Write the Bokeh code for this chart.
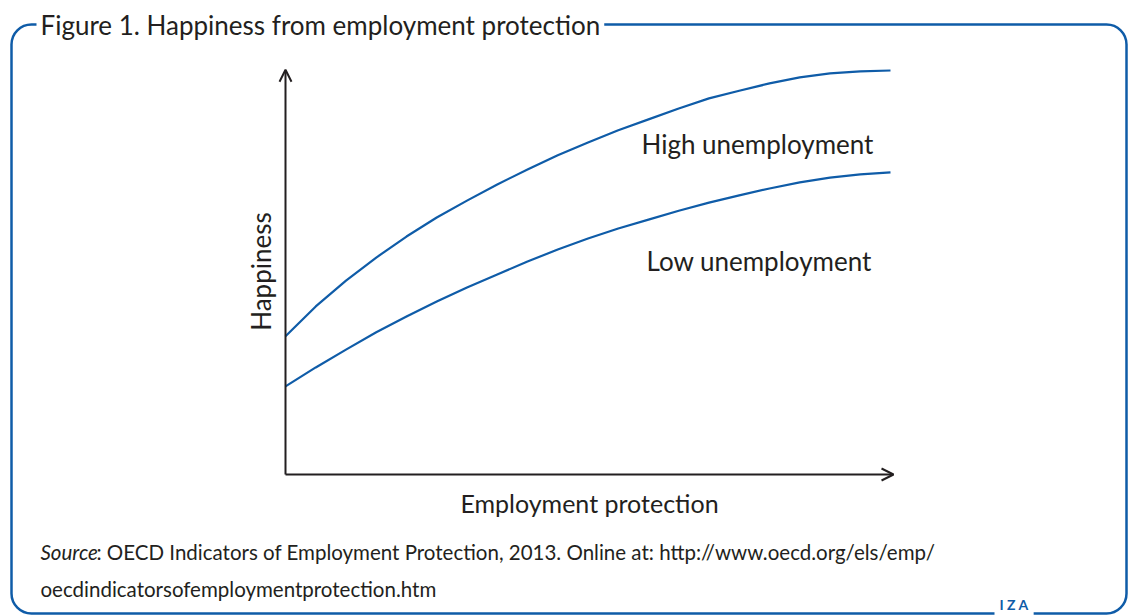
from bokeh.plotting import figure
from bokeh.models import Range1d, Label, Arrow, OpenHead, BoxAnnotation
from bokeh.embed import file_html
from bokeh.resources import INLINE

# ---------------- data (conceptual curves) ----------------
protection = [0, 0.5, 1, 1.5, 2, 2.5, 3, 3.5, 4, 4.5, 5, 5.5, 6, 6.5, 7, 7.5, 8, 8.5, 9, 9.5, 10]
happiness_high = [3.42, 4.16, 4.80, 5.37, 5.89, 6.36, 6.78, 7.18, 7.55, 7.90, 8.22,
                  8.52, 8.79, 9.06, 9.31, 9.50, 9.68, 9.83, 9.93, 9.98, 10.0]
happiness_low = [2.18, 2.65, 3.09, 3.52, 3.91, 4.28, 4.63, 4.95, 5.27, 5.57, 5.84,
                 6.09, 6.31, 6.53, 6.73, 6.91, 7.08, 7.23, 7.35, 7.43, 7.48]
series_labels = ["High unemployment", "Low unemployment"]

title_text = "Figure 1. Happiness from employment protection"
x_label = "Employment protection"
y_label = "Happiness"
source_italic = "Source"
source_rest = ": OECD Indicators of Employment Protection, 2013. Online at: http://www.oecd.org/els/emp/"
source_line2 = "oecdindicatorsofemploymentprotection.htm"
logo_text = "I Z A"

# ---------------- layout / style ----------------
FONT = "Lato"
INK = "#231f20"
BLUE = "#0f5ca8"
W, H = 1129, 616
OX, OY = 0, 0                 # page position of the canvas
ORIG_X, ORIG_Y = 285, 474     # page position of the axes origin
PX_X, PX_Y = 60.5, 40.4       # pixels per data unit

p = figure(width=W, height=H, output_backend="svg", toolbar_location=None,
           x_range=Range1d(OX, OX + W), y_range=Range1d(OY + H, OY),
           x_axis_location=None, y_axis_location=None, min_border=0)
p.grid.visible = False
p.outline_line_color = None
p.background_fill_color = "white"
p.border_fill_color = "white"

p.extra_x_ranges = {"d": Range1d((OX - ORIG_X) / PX_X, (OX + W - ORIG_X) / PX_X)}
p.extra_y_ranges = {"d": Range1d((ORIG_Y - (OY + H)) / PX_Y, (ORIG_Y - OY) / PX_Y)}

# frame box
p.add_layout(BoxAnnotation(left=11, right=1126, top=24, bottom=613,
                           fill_color=None, line_color=BLUE, line_alpha=1.0,
                           line_width=2.5, border_radius=20))

# title over the frame line
p.add_layout(Label(x=36, y=24, text=title_text, text_baseline="middle",
                   text_font=FONT, text_font_size="26px", text_color=INK,
                   background_fill_color="white", padding=4))

# axes arrows
p.add_layout(Arrow(x_start=0, y_start=0, x_end=10.05, y_end=0,
                   x_range_name="d", y_range_name="d",
                   line_color=INK, line_width=2,
                   end=OpenHead(size=12, line_color=INK, line_width=2)))
p.add_layout(Arrow(x_start=0, y_start=0, x_end=0, y_end=10.02,
                   x_range_name="d", y_range_name="d",
                   line_color=INK, line_width=2,
                   end=OpenHead(size=12, line_color=INK, line_width=2)))

# curves
p.line(protection, happiness_high, x_range_name="d", y_range_name="d",
       line_color=BLUE, line_width=2.2, line_join="round")
p.line(protection, happiness_low, x_range_name="d", y_range_name="d",
       line_color=BLUE, line_width=2.2, line_join="round")

# series labels
p.add_layout(Label(x=641, y=143, text=series_labels[0], text_baseline="middle",
                   text_font=FONT, text_font_size="26px", text_color=INK))
p.add_layout(Label(x=646, y=260, text=series_labels[1], text_baseline="middle",
                   text_font=FONT, text_font_size="26px", text_color=INK))

# axis titles
p.add_layout(Label(x=589, y=502, text=x_label, text_align="center", text_baseline="middle",
                   text_font=FONT, text_font_size="25px", text_color=INK))
p.add_layout(Label(x=260, y=271, text=y_label, angle=90, angle_units="deg",
                   text_align="center", text_baseline="middle",
                   text_font=FONT, text_font_size="26px", text_color=INK))

# source
p.add_layout(Label(x=40, y=551, text=source_italic, text_baseline="middle",
                   text_font=FONT, text_font_style="italic", text_font_size="20.5px", text_color=INK))
p.add_layout(Label(x=96, y=551, text=source_rest, text_baseline="middle",
                   text_font=FONT, text_font_size="20.5px", text_color=INK))
p.add_layout(Label(x=40, y=588, text=source_line2, text_baseline="middle",
                   text_font=FONT, text_font_size="20.5px", text_color=INK))

# logo
p.add_layout(Label(x=994, y=604, text=logo_text, text_baseline="middle",
                   text_font=FONT, text_font_style="bold", text_font_size="14px",
                   text_color=BLUE, background_fill_color="white", padding=5))

open("out.html", "w").write(file_html(p, INLINE))
